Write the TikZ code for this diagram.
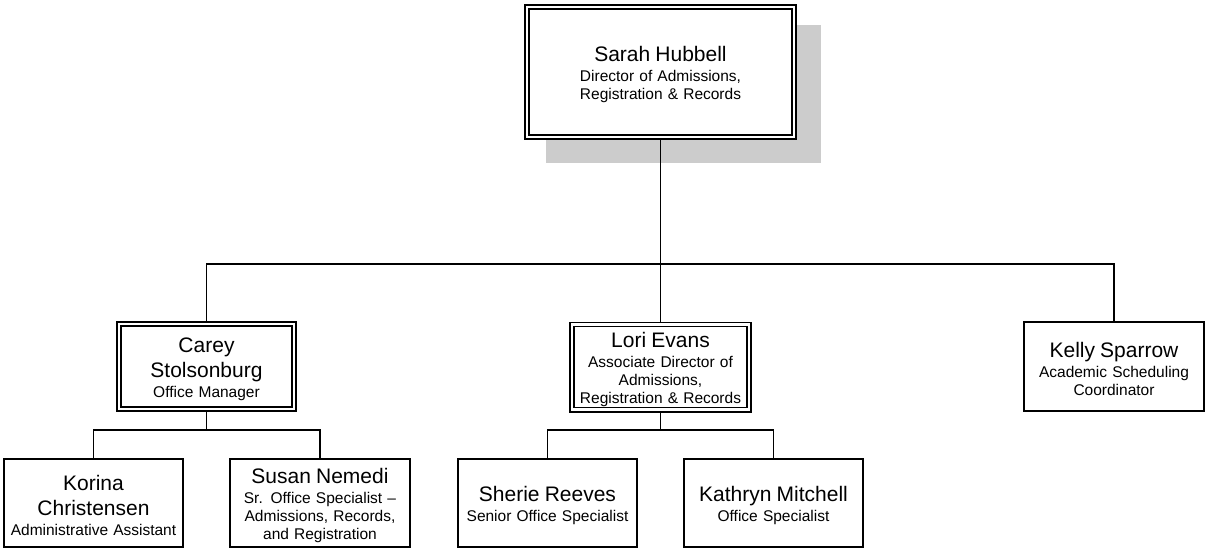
\documentclass[tikz,border=0pt]{standalone}
\usepackage{fontspec}
\setmainfont{Liberation Sans}
\usetikzlibrary{backgrounds}
\newcommand\pname[1]{{\fontsize{21}{25}\selectfont\rule{0pt}{21pt}#1\par}\vspace{2pt}}
\begin{document}
\begin{tikzpicture}[x=1pt,y=-1pt,
  orgbox/.style={draw, line width=1.6pt, fill=white, inner sep=0pt,
    minimum width=179.4pt, minimum height=88.4pt, text width=172pt,
    align=center, font=\fontsize{15.5}{18}\selectfont},
  dblbox/.style={orgbox, double, double distance=2.6pt, line width=1.6pt,
    minimum width=175.2pt, minimum height=85.2pt, text width=170pt},
  conn/.style={line width=1.6pt},
  shadowfill/.style={fill=black!20}]
\useasboundingbox (0,0) rectangle (1207,548);

\node[dblbox, minimum width=267.2pt, minimum height=130.2pt, text width=220pt] (S) at (660.5,72)
  {\pname{Sarah Hubbell}Director of Admissions,\\Registration \& Records};
\node[dblbox] (C) at (206.5,366.5) {\pname{Carey\\Stolsonburg}Office Manager};
\node[dblbox, minimum width=177.2pt] (L) at (660.5,367)
  {\pname{Lori Evans}Associate Director of\\Admissions,\\Registration \& Records};
\node[orgbox, minimum width=180.4pt, minimum height=89.4pt] (K) at (1114,366.5)
  {\pname{Kelly Sparrow}Academic Scheduling\\Coordinator};
\node[orgbox] (KC) at (93.5,503) {\pname{Korina\\Christensen}Administrative Assistant};
\node[orgbox, minimum width=180.4pt] (SN) at (320,503)
  {\pname{Susan Nemedi}Sr. Office Specialist –\\Admissions, Records,\\and Registration};
\node[orgbox] (SR) at (547.5,503) {\pname{Sherie Reeves}Senior Office Specialist};
\node[orgbox] (KM) at (773.5,503) {\pname{Kathryn Mitchell}Office Specialist};

\begin{scope}[on background layer]
  \fill[shadowfill] ([shift={(20.1,19.1)}]S.north west) rectangle ([shift={(25.9,24.9)}]S.south east);
  \coordinate (j0) at (S.south |- 0,264);
  \coordinate (j1) at (C.south |- 0,430);
  \coordinate (j2) at (L.south |- 0,430);
  \draw[conn] (S.south) -- (j0);
  \draw[conn] (C.north) |- (j0) -| (K.north);
  \draw[conn] (j0) -- (L.north);
  \draw[conn] (C.south) -- (j1);
  \draw[conn] (KC.north) |- (j1) -| (SN.north);
  \draw[conn] (L.south) -- (j2);
  \draw[conn] (SR.north) |- (j2) -| (KM.north);
\end{scope}
\end{tikzpicture}
\end{document}
